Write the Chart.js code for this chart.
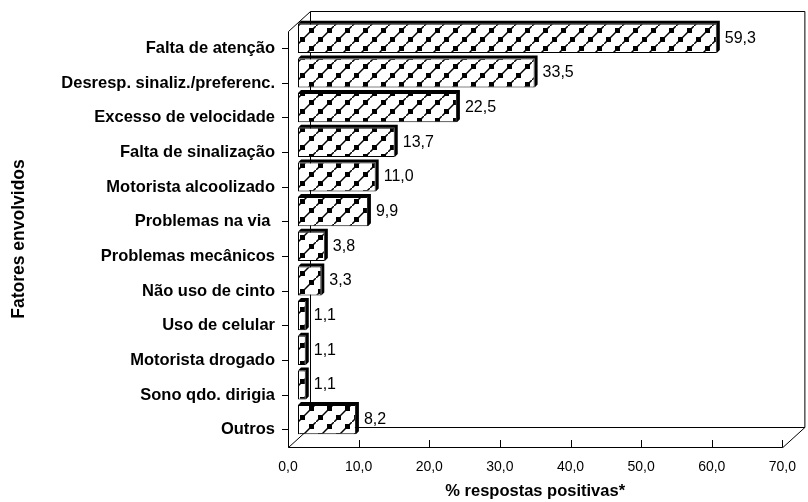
<!DOCTYPE html>
<html>
<head>
<meta charset="utf-8">
<script src="https://cdn.jsdelivr.net/npm/chart.js@4.4.1/dist/chart.umd.min.js"></script>
<style>
    body { margin: 0; background: #fff; }
    canvas { display: block; }
</style>
</head>
<body>
<canvas id="fatoresChart" width="808" height="502"></canvas>
<script>
const categories = [
    "Falta de atenção",
    "Desresp. sinaliz./preferenc.",
    "Excesso de velocidade",
    "Falta de sinalização",
    "Motorista alcoolizado",
    "Problemas na via ",
    "Problemas mecânicos",
    "Não uso de cinto",
    "Uso de celular",
    "Motorista drogado",
    "Sono qdo. dirigia",
    "Outros"
];
const percentValues = [59.3, 33.5, 22.5, 13.7, 11.0, 9.9, 3.8, 3.3, 1.1, 1.1, 1.1, 8.2];
const xTicks = [0, 10, 20, 30, 40, 50, 60, 70];

const fontFamily = '"Liberation Sans", Arial, sans-serif';
const depthX = 22;
const depthY = 20;
const barShift = 10;
const barDepth = 3;

function formatComma(value) {
    return Number(value).toFixed(1).replace(".", ",");
}

function makeHatch() {
    const size = 18;
    const tile = document.createElement("canvas");
    tile.width = size;
    tile.height = size;
    const t = tile.getContext("2d");
    t.fillStyle = "#fff";
    t.fillRect(0, 0, size, size);
    t.strokeStyle = "#000";
    t.lineWidth = 1.5;
    t.beginPath();
    t.moveTo(-2, size + 2);
    t.lineTo(size + 2, -2);
    t.stroke();
    t.fillStyle = "#000";
    t.fillRect(2, 11, 5, 5);
    t.fillRect(11, 2, 5, 5);
    return t.createPattern(tile, "repeat");
}

// caixa 3D: paredes, chao e as sombras das barras
const box3d = {
    id: "box3d",
    beforeDatasetsDraw(chart) {
        const { ctx, chartArea: a } = chart;
        const xs = chart.scales.x;
        const L = a.left + 0.5, R = a.right + 0.5, T = a.top + 0.5, B = a.bottom + 0.5;
        ctx.save();
        ctx.strokeStyle = "#000";
        ctx.lineWidth = 1;
        ctx.beginPath();
        ctx.moveTo(L, B);
        ctx.lineTo(L, T);
        ctx.lineTo(L + depthX, T - depthY);
        ctx.lineTo(R + depthX, T - depthY);
        ctx.lineTo(R + depthX, B - depthY);
        ctx.lineTo(R, B);
        ctx.lineTo(L, B);
        ctx.lineTo(L + depthX, B - depthY);
        ctx.lineTo(R + depthX, B - depthY);
        ctx.moveTo(L + depthX, B - depthY);
        ctx.lineTo(L + depthX, T - depthY);
        ctx.stroke();

        ctx.beginPath();
        xTicks.forEach((v) => {
            const px = Math.round(xs.getPixelForValue(v)) + 0.5;
            ctx.moveTo(px, a.bottom);
            ctx.lineTo(px, a.bottom - 7);
        });
        ctx.stroke();
        ctx.restore();

        ctx.save();
        ctx.translate(barShift, -barShift);
        ctx.fillStyle = "#000";
        chart.getDatasetMeta(0).data.forEach((bar) => {
            const top = bar.y - bar.height / 2;
            const bottom = bar.y + bar.height / 2;
            ctx.beginPath();
            ctx.moveTo(bar.base, top);
            ctx.lineTo(bar.base + barDepth, top - barDepth);
            ctx.lineTo(bar.x + barDepth, top - barDepth);
            ctx.lineTo(bar.x + barDepth, bottom - barDepth);
            ctx.lineTo(bar.x, bottom);
            ctx.lineTo(bar.x, top);
            ctx.closePath();
            ctx.fill();
        });
    },
    afterDatasetsDraw(chart) {
        const { ctx } = chart;
        ctx.restore();
        ctx.save();
        ctx.fillStyle = "#000";
        ctx.font = `16px ${fontFamily}`;
        ctx.textAlign = "left";
        ctx.textBaseline = "middle";
        chart.getDatasetMeta(0).data.forEach((bar, i) => {
            ctx.fillText(formatComma(percentValues[i]), bar.x + barShift + barDepth + 5, bar.y - barShift);
        });
        ctx.restore();
    }
};

new Chart(document.getElementById("fatoresChart"), {
    type: "bar",
    data: {
        labels: categories,
        datasets: [{
            data: percentValues,
            backgroundColor: makeHatch(),
            borderColor: "#000",
            borderWidth: 1,
            borderSkipped: false,
            categoryPercentage: 1,
            barPercentage: 0.84
        }]
    },
    options: {
        indexAxis: "y",
        responsive: false,
        animation: false,
        layout: {
            padding: { left: 0, right: 21, top: 31, bottom: 0 }
        },
        plugins: {
            legend: { display: false },
            tooltip: { enabled: false }
        },
        scales: {
            x: {
                min: 0,
                max: 70,
                afterFit(scale) { scale.height = 55; },
                afterBuildTicks(scale) { scale.ticks = xTicks.map((v) => ({ value: v })); },
                grid: { display: false, drawTicks: false },
                border: { display: false },
                ticks: {
                    color: "#000",
                    padding: 12,
                    maxRotation: 0,
                    autoSkip: false,
                    font: { family: fontFamily, size: 14 },
                    callback: (value) => formatComma(value)
                },
                title: {
                    display: true,
                    text: "% respostas positivas*",
                    color: "#000",
                    padding: { top: 0, bottom: 1 },
                    font: { family: fontFamily, size: 16.5, weight: "bold" }
                }
            },
            y: {
                afterFit(scale) { scale.width = 288; },
                grid: {
                    display: true,
                    offset: false,
                    drawOnChartArea: false,
                    drawTicks: true,
                    tickLength: 6,
                    color: "#000"
                },
                border: { display: false },
                ticks: {
                    color: "#000",
                    padding: 7,
                    autoSkip: false,
                    font: { family: fontFamily, size: 16.5, weight: "bold" }
                },
                title: {
                    display: true,
                    text: "Fatores envolvidos",
                    color: "#000",
                    padding: { top: 9, bottom: 0 },
                    font: { family: fontFamily, size: 17.5, weight: "bold" }
                }
            }
        }
    },
    plugins: [box3d]
});
</script>
</body>
</html>
